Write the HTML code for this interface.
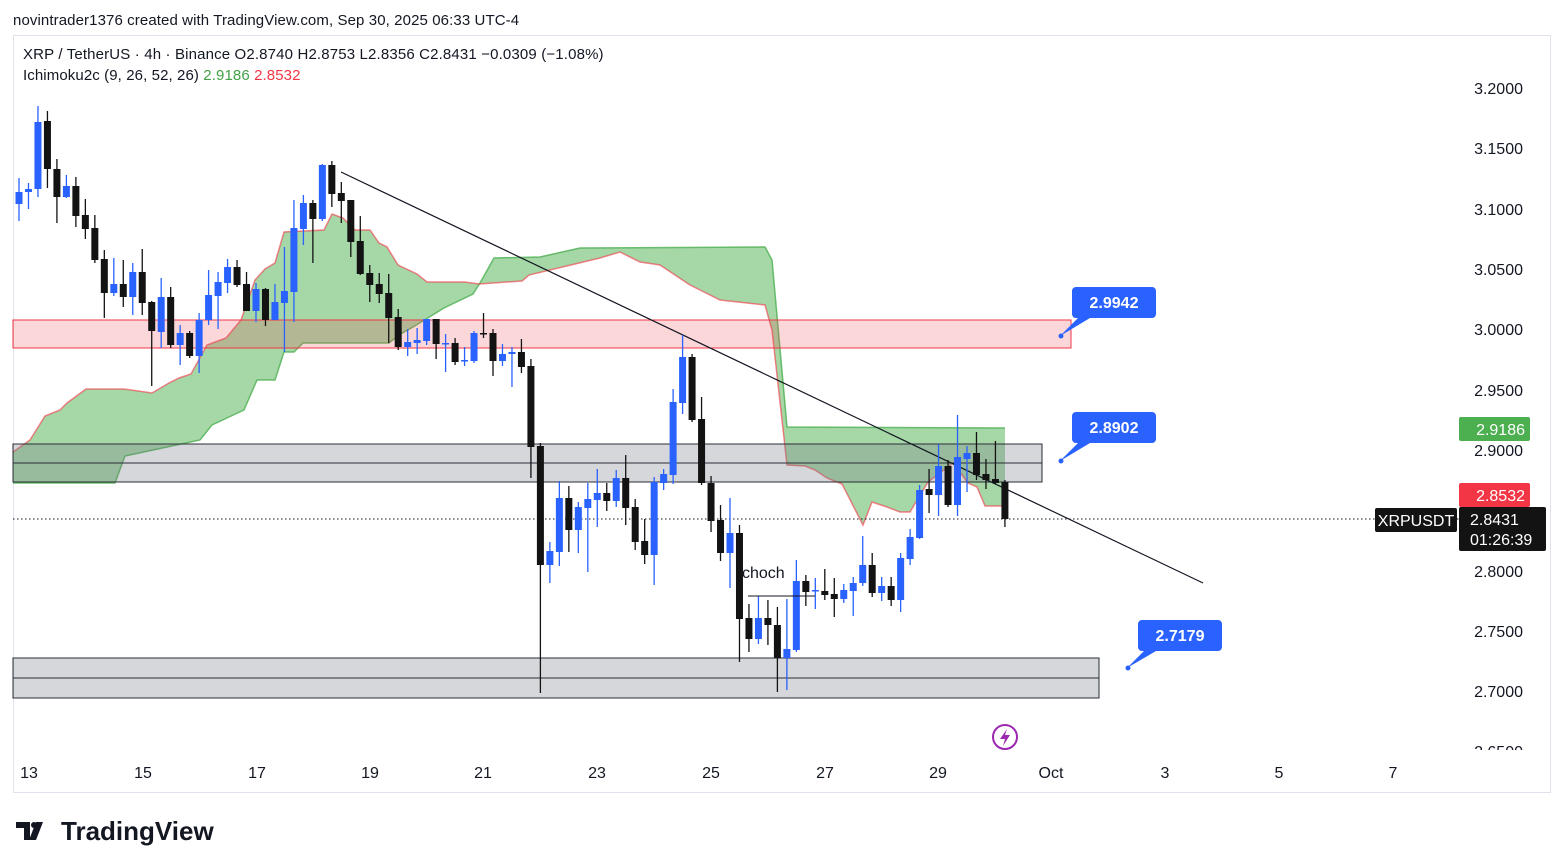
<!DOCTYPE html>
<html><head><meta charset="utf-8"><style>
body{margin:0;background:#fff;width:1563px;height:868px;overflow:hidden;font-family:"Liberation Sans",sans-serif}
svg{position:absolute;left:0;top:0}
</style></head><body>
<svg id="s" width="1563" height="868" xmlns="http://www.w3.org/2000/svg" font-family="Liberation Sans, sans-serif">
<text x="13" y="25" font-size="15" letter-spacing="0.1" fill="#131722">novintrader1376 created with TradingView.com, Sep 30, 2025 06:33 UTC-4</text>
<rect x="13.5" y="35.5" width="1537" height="757" fill="#fff" stroke="#e0e3eb"/>
<text x="23" y="59" font-size="15" letter-spacing="0.15" fill="#131722">XRP / TetherUS · 4h · Binance  O2.8740  H2.8753  L2.8356  C2.8431  −0.0309 (−1.08%)</text>
<text x="23" y="80" font-size="15" letter-spacing="0.1" fill="#131722">Ichimoku2c (9, 26, 52, 26) <tspan fill="#43a047">2.9186</tspan> <tspan fill="#f23645">2.8532</tspan></text>
<g id="cloud"></g>
<rect x="13" y="320" width="1058" height="28" fill="#f23645" fill-opacity="0.2" stroke="#f23645" stroke-width="1"/>
<rect x="13" y="444" width="1029" height="38" fill="#787b86" fill-opacity="0.3" stroke="#2a2e39" stroke-width="1"/>
<line x1="13" y1="463" x2="1042" y2="463" stroke="#2a2e39"/>
<rect x="13" y="658" width="1086" height="40" fill="#787b86" fill-opacity="0.3" stroke="#2a2e39" stroke-width="1"/>
<line x1="13" y1="678" x2="1099" y2="678" stroke="#2a2e39"/>
<line x1="13" y1="519" x2="1460" y2="519" stroke="#131722" stroke-dasharray="1.5,2.5"/>
<line x1="341" y1="172" x2="1203" y2="583" stroke="#131722" stroke-width="1.2"/>
<g id="candles"></g>
<line x1="748" y1="596" x2="815" y2="596" stroke="#131722"/>
<text x="742" y="578" font-size="16" fill="#131722">choch</text>
<g font-size="16" font-weight="bold" fill="#fff">
<path d="M1076 287h76a4 4 0 0 1 4 4v23a4 4 0 0 1-4 4h-76a4 4 0 0 1-4-4v-23a4 4 0 0 1 4-4z M1078 318 L1060 336 L1090 318z" fill="#2962ff"/>
<circle cx="1061" cy="336" r="2.5" fill="#2962ff"/>
<text x="1114" y="308" text-anchor="middle">2.9942</text>
<path d="M1076 412h76a4 4 0 0 1 4 4v23a4 4 0 0 1-4 4h-76a4 4 0 0 1-4-4v-23a4 4 0 0 1 4-4z M1078 443 L1060 461 L1090 443z" fill="#2962ff"/>
<circle cx="1061" cy="461" r="2.5" fill="#2962ff"/>
<text x="1114" y="433" text-anchor="middle">2.8902</text>
<path d="M1142 620h76a4 4 0 0 1 4 4v23a4 4 0 0 1-4 4h-76a4 4 0 0 1-4-4v-23a4 4 0 0 1 4-4z M1144 651 L1127 668 L1156 651z" fill="#2962ff"/>
<circle cx="1128" cy="668" r="2.5" fill="#2962ff"/>
<text x="1180" y="641" text-anchor="middle">2.7179</text>
</g>
<g font-size="16" fill="#131722" text-anchor="end">
<text x="1523" y="94">3.2000</text><text x="1523" y="154">3.1500</text><text x="1523" y="215">3.1000</text>
<text x="1523" y="275">3.0500</text><text x="1523" y="335">3.0000</text><text x="1523" y="396">2.9500</text>
<text x="1523" y="456">2.9000</text><text x="1523" y="577">2.8000</text><text x="1523" y="637">2.7500</text>
<text x="1523" y="697">2.7000</text>
</g>
<svg x="1460" y="740" width="70" height="10"><text x="63" y="17" font-size="16" fill="#131722" text-anchor="end">2.6500</text></svg>
<rect x="1459" y="417" width="71" height="24" rx="2" fill="#4caf50"/>
<text x="1525" y="435" font-size="16" fill="#fff" text-anchor="end">2.9186</text>
<rect x="1459" y="483" width="71" height="24" rx="2" fill="#f23645"/>
<text x="1525" y="501" font-size="16" fill="#fff" text-anchor="end">2.8532</text>
<rect x="1459" y="507" width="87" height="44" rx="2" fill="#131313"/>
<text x="1470" y="525" font-size="16" fill="#fff">2.8431</text>
<text x="1470" y="545" font-size="16" fill="#fff">01:26:39</text>
<rect x="1375" y="508" width="82" height="24" rx="2" fill="#131313"/>
<text x="1416" y="526" font-size="16" fill="#fff" text-anchor="middle">XRPUSDT</text>
<g font-size="16" fill="#131722" text-anchor="middle">
<text x="29" y="778">13</text><text x="143" y="778">15</text><text x="257" y="778">17</text><text x="370" y="778">19</text>
<text x="483" y="778">21</text><text x="597" y="778">23</text><text x="711" y="778">25</text><text x="825" y="778">27</text>
<text x="938" y="778">29</text><text x="1051" y="778">Oct</text><text x="1165" y="778">3</text><text x="1279" y="778">5</text><text x="1393" y="778">7</text>
</g>
<circle cx="1005" cy="737" r="12" fill="none" stroke="#9c27b0" stroke-width="2"/>
<path d="M1007 729 L1000 739 H1005 L1003 746 L1010 735 H1005z" fill="#9c27b0"/>
<path d="M16 822h14v18h-6v-12h-8z M36 822h7l-7 18h-7z" fill="#131722"/>
<circle cx="34" cy="825" r="3" fill="#131722"/>
<text x="61" y="840" font-size="26" font-weight="bold" fill="#131722">TradingView</text>
</svg>
<script>
var NS="http://www.w3.org/2000/svg";
function el(p,t,a){var e=document.createElementNS(NS,t);for(var k in a)e.setAttribute(k,a[k]);p.appendChild(e);return e;}
var B=[[13,452],[30,440],[45,416],[60,410],[67,403],[86,389],[124,389],[152,393],[169,383],[179,378],[191,374],[207,345],[226,338],[241,320],[255,280],[265,269],[275,263],[284,232],[324,230],[332,214],[343,218],[355,230],[370,230],[379,243],[387,247],[398,265],[417,274],[427,282],[465,282],[479,284],[522,281],[529,275],[575,264],[600,258],[620,252],[640,262],[660,265],[690,285],[720,300],[765,305],[772,330],[787,465],[805,466],[815,470],[827,478],[842,484],[863,525],[872,502],[887,507],[900,512],[910,512],[928,482],[953,463],[968,483],[977,487],[985,506],[1005,506]];
var A=[[13,483],[115,483],[125,456],[200,440],[212,425],[244,410],[257,380],[275,380],[284,352],[294,352],[303,343],[389,343],[399,335],[413,327],[444,308],[473,294],[480,283],[494,258],[540,257],[580,248],[765,247],[772,260],[787,427],[1005,428]];
var cg=document.getElementById("cloud");
var pts=A.map(function(p){return p.join(",")}).concat(B.slice().reverse().map(function(p){return p.join(",")})).join(" ");
el(cg,"polygon",{points:pts,fill:"#4caf50","fill-opacity":"0.5"});
el(cg,"polyline",{points:A.map(function(p){return p.join(",")}).join(" "),fill:"none",stroke:"#4caf50","stroke-width":"1.5","stroke-opacity":"0.8"});
el(cg,"polyline",{points:B.map(function(p){return p.join(",")}).join(" "),fill:"none",stroke:"#f23645","stroke-width":"1.5","stroke-opacity":"0.6"});
var C=[[192,204,178,221,"b"],[189,192,183,209,"b"],[122,189,106,197,"b"],[121,169,111,188,"k"],[169,197,159,223,"k"],[186,197,175,198,"b"],[186,216,177,227,"k"],[215,229,199,239,"k"],[228,260,215,263,"k"],[259,293,250,318,"k"],[284,293,258,296,"b"],[284,297,260,307,"k"],[272,297,263,315,"b"],[272,303,249,315,"k"],[302,331,301,386,"k"],[297,332,278,348,"b"],[297,345,287,348,"k"],[333,345,325,365,"b"],[333,356,331,358,"k"],[320,356,313,373,"b"],[295,320,270,325,"b"],[282,296,272,329,"b"],[267,283,259,293,"b"],[267,285,260,287,"k"],[284,311,272,311,"k"],[289,311,283,322,"b"],[289,320,288,326,"k"],[302,320,284,320,"b"],[291,303,247,352,"b"],[228,292,200,322,"b"],[203,229,195,245,"b"],[203,219,200,263,"k"],[165,219,164,221,"b"],[165,194,161,207,"k"],[193,201,182,223,"k"],[200,242,200,257,"k"],[241,274,216,275,"k"],[273,285,265,302,"k"],[284,294,273,303,"k"],[293,318,274,343,"k"],[317,347,309,350,"k"],[342,347,329,356,"b"],[340,343,328,354,"b"],[319,341,319,345,"b"],[319,344,319,359,"k"],[343,344,334,372,"b"],[343,362,338,365,"k"],[360,361,347,366,"b"],[333,361,331,363,"b"],[333,334,313,338,"k"],[333,361,329,376,"k"],[354,361,344,366,"b"],[352,354,347,387,"b"],[352,367,339,373,"k"],
[366,447,359,478,"k"],[446,565,443,693,"k"],[551,565,542,583,"b"],[498,552,481,566,"b"],[498,530,486,552,"k"],[507,530,502,553,"b"],[499,508,483,572,"b"],[493,500,469,527,"b"],[493,501,483,511,"k"],[478,501,470,507,"b"],[478,508,455,525,"k"],[507,542,499,550,"k"],[541,555,519,564,"k"],[482,555,477,585,"b"],[474,483,469,490,"b"],[402,475,389,484,"b"],[357,403,335,414,"b"],[357,420,354,422,"k"],[419,483,397,485,"k"],[483,521,476,532,"k"],[520,553,505,561,"k"],[533,553,498,588,"b"],[533,619,525,662,"k"],[618,639,604,652,"k"],[618,639,596,644,"b"],[618,625,600,645,"k"],[625,658,607,692,"k"],[649,658,599,690,"b"],[581,650,560,652,"b"],[581,592,575,606,"k"],[590,591,578,609,"b"],[591,595,569,600,"k"],[594,599,578,617,"k"],[590,599,584,603,"b"],[583,591,577,616,"b"],[565,583,536,586,"b"],[565,593,553,597,"k"],[586,593,577,601,"b"],[586,600,577,606,"k"],[558,600,553,612,"b"],[537,559,529,565,"b"],[490,538,485,539,"b"],[489,495,469,513,"k"],[466,495,444,516,"b"],[466,505,460,507,"k"],[457,505,415,516,"b"],[453,459,446,492,"b"],[453,475,432,480,"k"],[474,480,459,489,"k"],[479,483,441,484,"k"],[482,519,480,527,"k"]];
var g=document.getElementById("candles");
C.forEach(function(c,i){var x=19+i*9.48;var col=c[4]=="b"?"#2962ff":"#131313";
el(g,"line",{x1:x,x2:x,y1:c[2],y2:c[3],stroke:col,"stroke-width":"1.3"});
el(g,"rect",{x:x-3.5,y:c[0],width:7,height:Math.max(1.5,c[1]-c[0]),fill:col});});
</script>
</body></html>
